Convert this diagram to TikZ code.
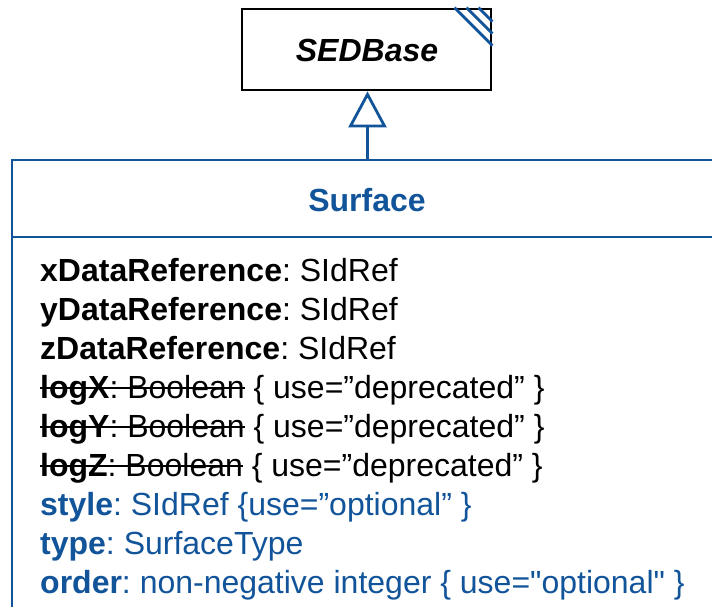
\documentclass[tikz,border=0pt]{standalone}
\usepackage{fontspec}
\setmainfont{Liberation Sans}
\newfontfamily\rawfont{Liberation Sans}
\usetikzlibrary{arrows.meta}
\definecolor{umlblue}{RGB}{18,84,154}
\newcommand\mystrike[1]{\leavevmode\setbox0\hbox{#1}\rlap{\rule[0.27em]{\wd0}{0.08em}}\copy0\relax}
\newcommand\sq{{\rawfont\symbol{34}}}
\tikzset{
  classbox/.style={draw, rectangle, inner sep=0pt},
  attr/.style={anchor=base west, inner sep=0pt, font=\fontsize{32}{39}\selectfont\frenchspacing},
  title/.style={inner sep=0pt, font=\fontsize{32}{39}\selectfont\bfseries},
  inherit/.style={umlblue, line width=2.8pt, -{Triangle[open, length=36pt, width=38pt, fill=white]}},
  hatch/.style={umlblue, line width=2.8pt}
}
\begin{document}
\begin{tikzpicture}[x=1pt, y=-1pt]
\useasboundingbox (0,0) rectangle (712,607);
\clip (0,0) rectangle (712,607);
% Base class
\node[classbox, line width=2.8pt, minimum width=249pt, minimum height=81pt] (sedbase) at (366.5,49.5) {};
\node[title, font=\fontsize{32}{39}\selectfont\bfseries\itshape] (sedbasetxt) at (367,50) {SEDBase};
\draw[hatch] ([xshift=-38pt]sedbase.north east) -- ([yshift=-38pt]sedbase.north east);
\draw[hatch] ([xshift=-26pt]sedbase.north east) -- ([yshift=-26pt]sedbase.north east);
\draw[hatch] ([xshift=-14pt]sedbase.north east) -- ([yshift=-14pt]sedbase.north east);
% Surface class
\node[classbox, draw=umlblue, line width=2.8pt, minimum width=718pt, minimum height=480pt] (surface) at (371,400) {};
\coordinate (divl) at (12,237);
\coordinate (divr) at (730,237);
\draw[umlblue, line width=2.8pt] (divl) -- (divr);
\node[title, text=umlblue] (surfacetxt) at (367,200) {Surface};
\coordinate (stem) at (367.5,160);
\draw[inherit] (stem) -- (stem |- sedbase.south);
% Attributes
\node[attr] (a1) at (40,281) {\textbf{xDataReference}: SIdRef};
\node[attr] (a2) at (40,320) {\textbf{yDataReference}: SIdRef};
\node[attr] (a3) at (40,359) {\textbf{zDataReference}: SIdRef};
\node[attr] (a4) at (40,398) {\mystrike{\textbf{logX}: Boolean} \{ use=”deprecated” \}};
\node[attr] (a5) at (40,437) {\mystrike{\textbf{logY}: Boolean} \{ use=”deprecated” \}};
\node[attr] (a6) at (40,476) {\mystrike{\textbf{logZ}: Boolean} \{ use=”deprecated” \}};
\node[attr, text=umlblue] (a7) at (40,515) {\textbf{style}: SIdRef \{use=”optional” \}};
\node[attr, text=umlblue] (a8) at (40,554) {\textbf{type}: SurfaceType};
\node[attr, text=umlblue] (a9) at (40,593) {\textbf{order}: non-negative integer \{ use=\sq optional\sq\ \}};
\end{tikzpicture}
\end{document}
